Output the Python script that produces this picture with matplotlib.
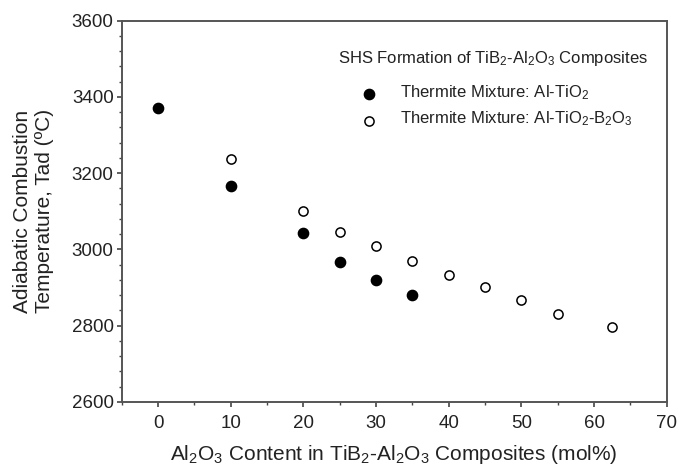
import matplotlib
matplotlib.use("Agg")
import matplotlib.pyplot as plt
from matplotlib.ticker import MultipleLocator

plt.rcParams["font.family"] = ["Liberation Sans", "DejaVu Sans"]
plt.rcParams["mathtext.fontset"] = "custom"
plt.rcParams["mathtext.rm"] = "Liberation Sans"
plt.rcParams["mathtext.it"] = "Liberation Sans:italic"
plt.rcParams["mathtext.bf"] = "Liberation Sans:bold"

# Al2O3 content (mol%) and adiabatic temperatures (deg C)
al_tio2_x = [0, 10, 20, 25, 30, 35]
al_tio2_t = [3371, 3167, 3042, 2967, 2921, 2881]

al_tio2_b2o3_x = [10, 20, 25, 30, 35, 40, 45, 50, 55, 62.5]
al_tio2_b2o3_t = [3238, 3102, 3047, 3008, 2971, 2932, 2901, 2867, 2832, 2796]

x_ticks = [0, 10, 20, 30, 40, 50, 60, 70]
y_ticks = [2600, 2800, 3000, 3200, 3400, 3600]

TEXT = "#222222"
FILLED = dict(linestyle="none", marker="o", markersize=7.4,
              markerfacecolor="black", markeredgecolor="black")
HOLLOW = dict(linestyle="none", marker="o", markersize=6.6,
              markerfacecolor="white", markeredgecolor="black",
              markeredgewidth=1.1)

fig = plt.figure(figsize=(6.81, 4.67), dpi=100)
ax = fig.add_axes([0.1787, 0.1392, 0.8003, 0.8165])

ax.plot(al_tio2_x, al_tio2_t, **FILLED)
ax.plot(al_tio2_b2o3_x, al_tio2_b2o3_t, **HOLLOW)

ax.set_xlim(-5, 70)
ax.set_ylim(2600, 3600)
ax.set_xticks(x_ticks)
ax.set_yticks(y_ticks)
ax.xaxis.set_minor_locator(MultipleLocator(5))
ax.yaxis.set_minor_locator(MultipleLocator(40))
ax.tick_params(which="both", direction="out", top=False, right=False,
               color="#444444", labelsize=13.5, labelcolor=TEXT)
ax.tick_params(which="major", length=3.8, width=1.2)
ax.tick_params(which="minor", length=2.4, width=1.0)
ax.tick_params(axis="x", pad=5.5)
ax.tick_params(axis="y", pad=2.0)
for sp in ax.spines.values():
    sp.set_color("#555555")
    sp.set_linewidth(1.4)

ax.set_xlabel(r"Al$_2$O$_3$ Content in TiB$_2$-Al$_2$O$_3$ Composites (mol%)",
              fontsize=15, color=TEXT, labelpad=8)
ax.set_ylabel("Adiabatic Combustion\nTemperature, Tad (ºC)",
              fontsize=15, color=TEXT, labelpad=13)

# Key box
ax.text(0.396, 0.902, r"SHS Formation of TiB$_2$-Al$_2$O$_3$ Composites",
        transform=ax.transAxes, fontsize=12, color=TEXT, va="center")
ax.plot([0.454], [0.808], transform=ax.transAxes, **FILLED)
ax.plot([0.454], [0.738], transform=ax.transAxes, **HOLLOW)
ax.text(0.511, 0.812, r"Thermite Mixture: Al-TiO$_2$",
        transform=ax.transAxes, fontsize=12, color=TEXT, va="center")
ax.text(0.511, 0.742, r"Thermite Mixture: Al-TiO$_2$-B$_2$O$_3$",
        transform=ax.transAxes, fontsize=12, color=TEXT, va="center")

fig.savefig("out.png", dpi=100)
